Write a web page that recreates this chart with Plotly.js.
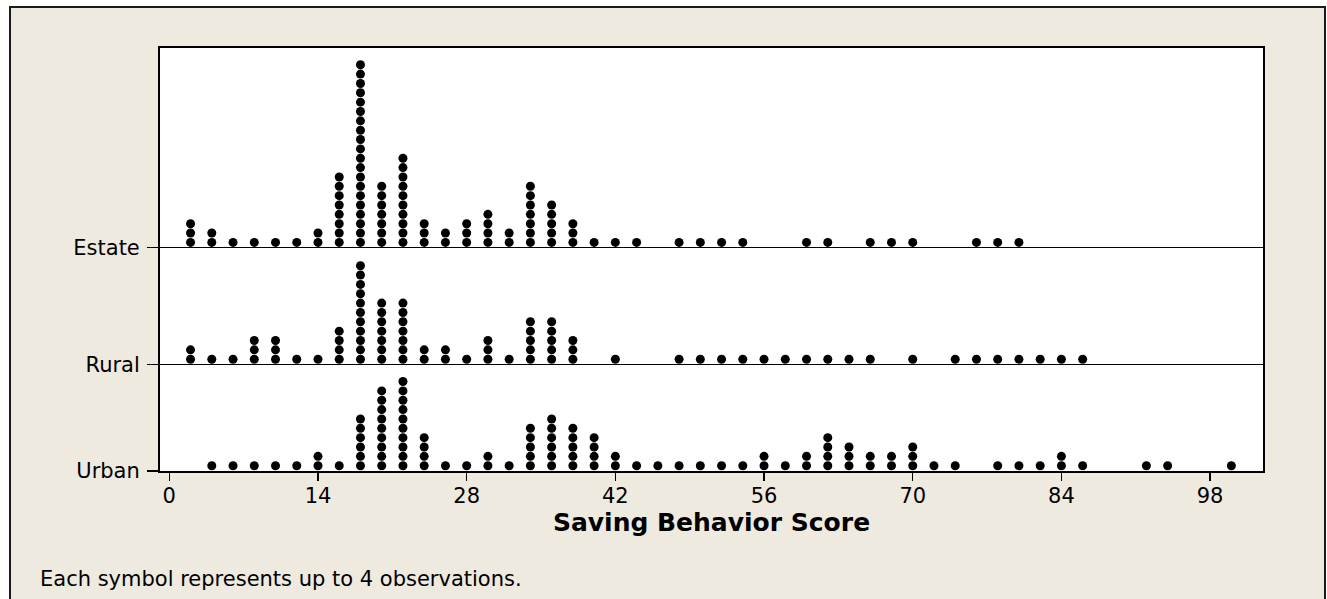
<!DOCTYPE html>
<html>
<head>
<meta charset="utf-8">
<script src="https://cdn.plot.ly/plotly-3.0.1.min.js"></script>
<style>
  html, body { margin: 0; padding: 0; background: #ffffff; overflow: hidden; }
  #frame {
    position: absolute; left: 9px; top: 6px;
    width: 1313px; height: 600px;
    border: 2px solid #1a1a1a; border-bottom: none;
    background: #EEEAE0;
  }
  #chart { width: 1313px; height: 591px; }
</style>
</head>
<body>
<div id="frame"><div id="chart"></div></div>
<script>
// ---- data (each symbol = up to 4 observations) ----
const groups = ["Urban", "Rural", "Estate"];

const estateScores = [2,4,6,8,10,12,14,16,18,20,22,24,26,28,30,32,34,36,38,40,42,44,48,50,52,54,60,62,66,68,70,76,78,80];
const estateSymbols = [3,2,1,1,1,1,2,8,20,7,10,3,2,3,4,2,7,5,3,1,1,1,1,1,1,1,1,1,1,1,1,1,1,1];

const ruralScores = [2,4,6,8,10,12,14,16,18,20,22,24,26,28,30,32,34,36,38,42,48,50,52,54,56,58,60,62,64,66,70,74,76,78,80,82,84,86];
const ruralSymbols = [2,1,1,3,3,1,1,4,11,7,7,2,2,1,3,1,5,5,3,1,1,1,1,1,1,1,1,1,1,1,1,1,1,1,1,1,1,1];

const urbanScores = [4,6,8,10,12,14,16,18,20,22,24,26,28,30,32,34,36,38,40,42,44,46,48,50,52,54,56,58,60,62,64,66,68,70,72,74,78,80,82,84,86,92,94,100];
const urbanSymbols = [1,1,1,1,1,2,1,6,9,10,4,1,1,2,1,5,6,5,4,2,1,1,1,1,1,1,2,1,2,4,3,2,2,3,1,1,1,1,1,2,1,1,1,1];

const xTicks = [0,14,28,42,56,70,84,98];
const xTitle = "Saving Behavior Score";
const footnote = "Each symbol represents up to 4 observations.";

// ---- layout geometry (vertical panel units) ----
const baseline = { Urban: 0, Rural: 106.5, Estate: 223.3 };
const firstOffset = 5.3;
const step = 9.35;

function stack(name, scores, symbols) {
  const xs = [], ys = [];
  scores.forEach((s, i) => {
    for (let k = 0; k < symbols[i]; k++) {
      xs.push(s);
      ys.push(baseline[name] + firstOffset + k * step);
    }
  });
  return {
    type: "scatter", mode: "markers", name: name,
    x: xs, y: ys, hoverinfo: "x+name",
    marker: { symbol: "circle", size: 9, color: "#000000", line: { width: 0 } },
    showlegend: false, cliponaxis: false
  };
}

const data = [
  stack("Estate", estateScores, estateSymbols),
  stack("Rural", ruralScores, ruralSymbols),
  stack("Urban", urbanScores, urbanSymbols)
];

const font = "DejaVu Sans, Verdana, sans-serif";

const layout = {
  width: 1313, height: 591,
  margin: { l: 149, r: 61, t: 40, b: 128 },
  paper_bgcolor: "rgba(0,0,0,0)",
  plot_bgcolor: "#ffffff",
  font: { family: font, color: "#000000", size: 21 },
  xaxis: {
    range: [-0.876, 102.98],
    tickmode: "array", tickvals: xTicks, ticktext: xTicks.map(String),
    ticks: "outside", ticklen: 8, tickwidth: 1.5, tickcolor: "#000",
    ticklabelstandoff: -3,
    showline: true, mirror: true, linecolor: "#000", linewidth: 2,
    showgrid: false, zeroline: false,
    tickfont: { size: 21, family: font },
    title: { text: "<b>" + xTitle + "</b>", font: { size: 25, family: font }, standoff: 2 }
  },
  yaxis: {
    range: [0, 423],
    tickmode: "array",
    tickvals: groups.map(g => baseline[g]),
    ticktext: groups,
    ticks: "outside", ticklen: 11, tickwidth: 1.5, tickcolor: "#000",
    ticklabelstandoff: 3,
    showline: true, mirror: true, linecolor: "#000", linewidth: 2,
    showgrid: true, gridcolor: "#000", gridwidth: 1.5,
    zeroline: false, fixedrange: true,
    tickfont: { size: 21, family: font }
  },
  annotations: [{
    xref: "paper", yref: "paper",
    x: -0.1106, y: -0.2553, xanchor: "left", yanchor: "middle",
    text: footnote, showarrow: false,
    font: { size: 21, family: font, color: "#000" }
  }]
};

Plotly.newPlot("chart", data, layout, { displayModeBar: false, staticPlot: true });
</script>
</body>
</html>
